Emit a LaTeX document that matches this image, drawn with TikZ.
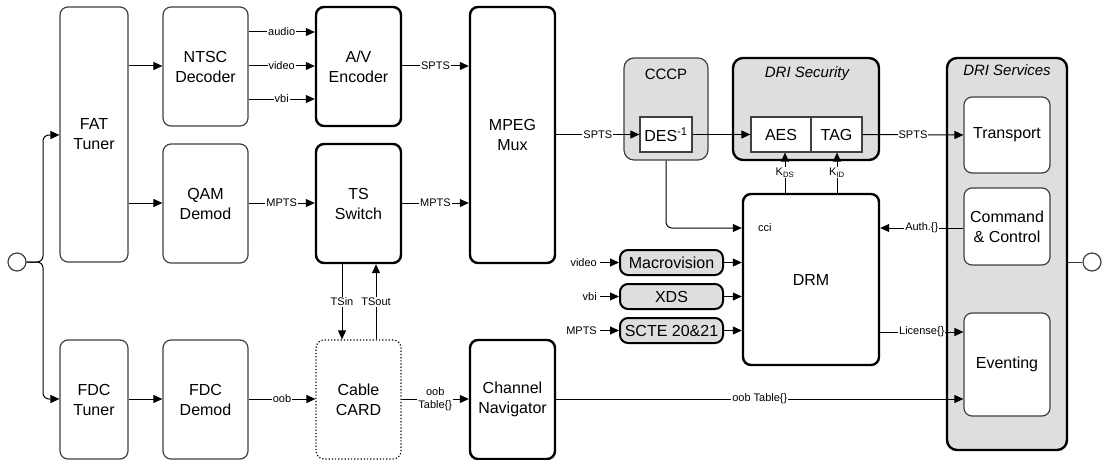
\documentclass[tikz,border=0pt]{standalone}
\usepackage{fontspec}
\setmainfont{Liberation Sans}
\usetikzlibrary{arrows.meta}
\begin{document}
\begin{tikzpicture}[x=1pt,y=-1pt,
  every node/.style={inner sep=0pt, align=center},
  bfont/.style={font=\fontsize{16}{20}\selectfont},
  thinbox/.style={bfont, draw=black!75, line width=1.2pt, rounded corners=8pt, fill=white},
  thickbox/.style={bfont, draw=black, line width=2.4pt, rounded corners=8pt, fill=white},
  dotbox/.style={bfont, draw=black, line width=1.2pt, dotted, rounded corners=8pt, fill=white},
  graythin/.style={draw=black!75, line width=1.2pt, rounded corners=10pt, fill=black!13},
  graythick/.style={draw=black, line width=2.4pt, rounded corners=10pt, fill=black!13},
  pill/.style={bfont, draw=black, line width=2pt, rounded corners=8pt, fill=black!13},
  sqbox/.style={bfont, draw=black!75, line width=1.2pt, fill=white},
  wh/.style 2 args={minimum width=#1pt, minimum height=#2pt},
  arr/.style={draw=black, line width=1pt, -{Triangle[length=9pt,width=8pt]}},
  ln/.style={draw=black!80, line width=1pt},
  lbl/.style={font=\fontsize{11}{13}\selectfont, fill=white, inner sep=1pt},
  lblp/.style={font=\fontsize{11}{13}\selectfont, inner sep=3pt},
  ttl/.style={font=\fontsize{15}{18}\selectfont}
]
\useasboundingbox (0,0) rectangle (1103,460);

% left column
\node[thinbox, wh={68}{255}] (fat) at (94,134.5) {FAT\\Tuner};
\node[thinbox, wh={68}{119}] (fdct) at (94,399.5) {FDC\\Tuner};
\node[thinbox, wh={85}{119}] (ntsc) at (205.5,66.5) {NTSC\\Decoder};
\node[thinbox, wh={85}{119}] (qam) at (205.5,203.5) {QAM\\Demod};
\node[thinbox, wh={85}{119}] (fdcd) at (205.5,399.5) {FDC\\Demod};
\node[thickbox, wh={85}{119}] (av) at (358.5,66.5) {A/V\\Encoder};
\node[thickbox, wh={85}{119}] (ts) at (358.5,203.5) {TS\\Switch};
\node[dotbox, wh={85}{119}] (card) at (358.5,399.5) {Cable\\CARD};
\node[thickbox, wh={85}{256}] (mux) at (512.5,135) {MPEG\\Mux};
\node[thickbox, wh={85}{119}] (nav) at (512.5,399.5) {Channel\\Navigator};

% circles
\node[draw=black!75, line width=1.2pt, circle, minimum size=18pt, fill=white] (cl) at (17,262) {};
\node[draw=black!75, line width=1.2pt, circle, minimum size=18pt, fill=white] (cr) at (1092,262) {};

% CCCP
\node[graythin, wh={84}{102}] (cccp) at (666,109) {};
\node[ttl] (cccpt) at (666,74) {CCCP};
\node[sqbox, wh={52}{35}] (des) at (666,134.5) {DES\textsuperscript{-1}};

% DRI Security
\node[graythick, wh={146}{102}] (sec) at (806,109) {};
\node[ttl, font=\fontsize{15}{18}\selectfont\itshape] (sect) at (807,74) {DRI Security};
\node[sqbox, wh={60}{35}] (aes) at (781,134.5) {AES};
\node[sqbox, wh={51}{35}] (tag) at (836.5,134.5) {TAG};

% DRM
\node[thickbox, wh={136}{171}] (drm) at (811,279.5) {DRM};
\node[lblp, anchor=west] (cci) at (755,228) {cci};

% filters
\node[pill, wh={103}{25}] (macro) at (671.5,262.5) {Macrovision};
\node[pill, wh={103}{25}] (xds) at (671.5,296.5) {XDS};
\node[pill, wh={103}{25}] (scte) at (671.5,330.5) {SCTE 20\&21};
\node[lblp, anchor=east] (lv) at (600,262.5) {video};
\node[lblp, anchor=east] (lb) at (600,296.5) {vbi};
\node[lblp, anchor=east] (lm) at (600,330.5) {MPTS};

% DRI Services
\node[graythick, wh={120}{392}] (svc) at (1007,254) {};
\node[ttl, font=\fontsize{15}{18}\selectfont\itshape] (svct) at (1007,70) {DRI Services};
\node[thinbox, wh={86}{76}] (trans) at (1007,135) {Transport};
\node[thinbox, wh={86}{77}] (cc) at (1007,226.5) {Command\\\& Control};
\node[thinbox, wh={86}{103}] (ev) at (1007,364.5) {Eventing};

% antenna branch
\draw[arr, rounded corners=6pt] (cl.east) -- (43,262) -- (43,135) -- (fat.west |- 0,135);
\draw[arr, rounded corners=6pt] (cl.east) -- (43,262) -- (43,399) -- (fdct.west |- 0,399);

% left connections
\draw[arr] (fat.east |- 0,66) -- (ntsc.west |- 0,66);
\draw[arr] (fat.east |- 0,203) -- (qam.west |- 0,203);
\draw[arr] (fdct.east |- 0,399) -- (fdcd.west |- 0,399);
\draw[arr] (ntsc.east |- 0,32) -- node[lbl]{audio} (av.west |- 0,32);
\draw[arr] (ntsc.east |- 0,66) -- node[lbl]{video} (av.west |- 0,66);
\draw[arr] (ntsc.east |- 0,99) -- node[lbl]{vbi} (av.west |- 0,99);
\draw[arr] (qam.east |- 0,203) -- node[lbl]{MPTS} (ts.west |- 0,203);
\draw[arr] (fdcd.east |- 0,399) -- node[lbl]{oob} (card.west |- 0,399);
\draw[arr] (av.east |- 0,66) -- node[lbl]{SPTS} (mux.west |- 0,66);
\draw[arr] (ts.east |- 0,203) -- node[lbl]{MPTS} (mux.west |- 0,203);
\draw[arr] (ts.south -| 342,0) -- node[lbl]{TSin} (card.north -| 342,0);
\draw[arr] (card.north -| 376,0) -- node[lbl]{TSout} (ts.south -| 376,0);
\draw[arr] (card.east |- 0,399) -- node[lbl]{oob\\Table\{\}} (nav.west |- 0,399);
\draw[arr] (nav.east |- 0,399) -- node[lbl]{oob Table\{\}} (ev.west |- 0,399);

% middle/right connections
\draw[arr] (mux.east |- 0,134.5) -- node[lbl]{SPTS} (des.west);
\draw[arr] (des.east) -- (aes.west);
\draw[arr] (tag.east) -- node[lbl]{SPTS} (trans.west);
\draw[arr] (drm.north -| 785,0) -- node[lbl]{K\textsubscript{DS}} (aes.south -| 785,0);
\draw[arr] (drm.north -| 837,0) -- node[lbl]{K\textsubscript{ID}} (tag.south -| 837,0);
\draw[arr, rounded corners=6pt] (cccp.south) -- (666,228) -- (drm.west |- 0,228);
\draw[arr] (cc.west |- 0,228) -- node[lbl]{Auth.\{\}} (drm.east |- 0,228);
\draw[arr] (drm.east |- 0,332) -- node[lbl]{License\{\}} (ev.west |- 0,332);
\draw[arr] (lv.east) -- (macro.west);
\draw[arr] (lb.east) -- (xds.west);
\draw[arr] (lm.east) -- (scte.west);
\draw[arr] (macro.east) -- (drm.west |- macro.east);
\draw[arr] (xds.east) -- (drm.west |- xds.east);
\draw[arr] (scte.east) -- (drm.west |- scte.east);
\draw[ln] (svc.east |- cr.west) -- (cr.west);
\end{tikzpicture}
\end{document}
